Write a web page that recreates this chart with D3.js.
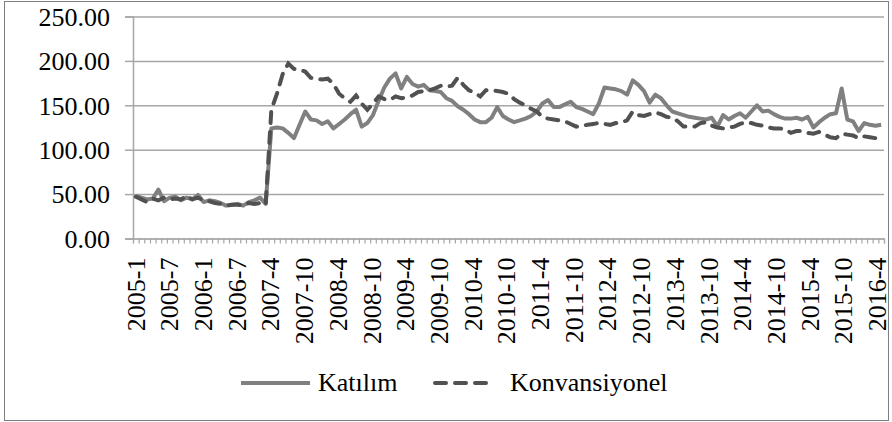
<!DOCTYPE html>
<html>
<head>
<meta charset="utf-8">
<script src="https://cdn.jsdelivr.net/npm/d3@7/dist/d3.min.js"></script>
<style>
  body { margin: 0; background: #fff; }
</style>
</head>
<body>
<div id="chart"></div>
<script>
// months 2005-1 .. 2016-4 (2007-1..3 absent in the source)
const categories = [
  "2005-1","2005-2","2005-3","2005-4","2005-5","2005-6","2005-7","2005-8","2005-9","2005-10","2005-11","2005-12",
  "2006-1","2006-2","2006-3","2006-4","2006-5","2006-6","2006-7","2006-8","2006-9","2006-10","2006-11","2006-12",
  "2007-4","2007-5","2007-6","2007-7","2007-8","2007-9","2007-10","2007-11","2007-12",
  "2008-1","2008-2","2008-3","2008-4","2008-5","2008-6","2008-7","2008-8","2008-9","2008-10","2008-11","2008-12",
  "2009-1","2009-2","2009-3","2009-4","2009-5","2009-6","2009-7","2009-8","2009-9","2009-10","2009-11","2009-12",
  "2010-1","2010-2","2010-3","2010-4","2010-5","2010-6","2010-7","2010-8","2010-9","2010-10","2010-11","2010-12",
  "2011-1","2011-2","2011-3","2011-4","2011-5","2011-6","2011-7","2011-8","2011-9","2011-10","2011-11","2011-12",
  "2012-1","2012-2","2012-3","2012-4","2012-5","2012-6","2012-7","2012-8","2012-9","2012-10","2012-11","2012-12",
  "2013-1","2013-2","2013-3","2013-4","2013-5","2013-6","2013-7","2013-8","2013-9","2013-10","2013-11","2013-12",
  "2014-1","2014-2","2014-3","2014-4","2014-5","2014-6","2014-7","2014-8","2014-9","2014-10","2014-11","2014-12",
  "2015-1","2015-2","2015-3","2015-4","2015-5","2015-6","2015-7","2015-8","2015-9","2015-10","2015-11","2015-12",
  "2016-1","2016-2","2016-3","2016-4"
];

const katilim = [
  48,46,44,45,55,42,46,47,43,46,44,49,41,43,42,40,37,38,39,37,41,43,46,39,
  124,125,124,119,113,128,143,134,133,129,132,124,129,134,140,145,126,130,139,155,
  170,180,186,169,182,174,171,173,167,166,
  165,158,155,149,145,140,134,131,131,136,148,138,134,131,133,135,138,143,152,156,
  148,148,151,154,148,146,143,140,152,170,169,168,166,162,178,173,166,153,162,158,
  150,143,141,139,137,136,135,134,136,126,139,134,138,
  141,136,143,150,143,144,140,137,135,135,136,134,137,125,131,136,140,141,169,134,
  132,121,130,128,127,128
];

const konvansiyonel = [
  47,44,41,45,43,46,44,45,44,48,44,46,43,42,40,39,37,38,38,37,40,39,40,38,
  145,163,185,197,191,190,188,181,180,179,180,174,163,158,154,161,152,145,152,160,
  157,156,160,158,159,161,165,166,167,169,
  172,171,172,181,173,167,164,160,167,167,166,165,163,157,153,150,146,143,137,135,
  134,133,132,129,126,127,
  128,129,130,129,128,130,131,133,143,139,138,140,142,140,137,136,132,126,126,126,
  130,131,127,125,124,125,126,
  129,131,130,128,127,125,124,124,123,119,121,121,119,118,120,117,114,113,118,117,
  116,113,115,114,113,111
];

const yTicks = [0, 50, 100, 150, 200, 250];
const labelStep = 6;

const W = 892, H = 422;
const plotLeft = 133, plotRight = 884, plotTop = 16.5, plotBottom = 238.5;
const gridColor = "#a6a6a6";
const serif = "'Liberation Serif', 'Times New Roman', 'DejaVu Serif', serif";

const svg = d3.select("#chart").append("svg")
    .attr("width", W)
    .attr("height", H);

// chart border
svg.append("rect")
    .attr("x", 4.5).attr("y", 1.5)
    .attr("width", 884).attr("height", 419)
    .attr("fill", "#fff")
    .attr("stroke", "#7f7f7f");

const x = d3.scaleBand()
    .domain(categories)
    .range([plotLeft, plotRight]);

// labels sit a touch tighter than the categories in the original
const xLabel = d3.scaleBand()
    .domain(categories)
    .range([plotLeft, plotRight - 4]);

const y = d3.scaleLinear()
    .domain([0, 250])
    .range([plotBottom, plotTop]);

// gridlines
svg.append("g")
    .attr("transform", `translate(${plotLeft},0)`)
    .call(d3.axisLeft(y).tickValues(yTicks).tickSize(-(plotRight - plotLeft)).tickFormat(""))
    .call(g => g.select(".domain").remove())
    .selectAll("line")
    .attr("stroke", gridColor)
    .attr("stroke-width", 1.5);

// y axis
const yAxis = svg.append("g")
    .attr("transform", `translate(${plotLeft},0)`)
    .call(d3.axisLeft(y).tickValues(yTicks).tickSize(8).tickPadding(15).tickFormat(d3.format(".2f")));
yAxis.attr("font-family", null).attr("font-size", null);
yAxis.selectAll("path, line").attr("stroke", gridColor).attr("stroke-width", 1.5);
yAxis.selectAll("text")
    .style("font-family", serif)
    .style("font-size", "26px")
    .attr("fill", "#000")
    .attr("dy", "0.34em");

// x axis: a tick at every category boundary
const xb = d3.scaleLinear()
    .domain([0, categories.length])
    .range([plotLeft, plotRight]);
const xTicks = svg.append("g")
    .attr("transform", `translate(0,${plotBottom})`)
    .call(d3.axisBottom(xb).tickValues(d3.range(categories.length + 1)).tickSize(5).tickFormat(""));
xTicks.selectAll("path, line").attr("stroke", gridColor).attr("stroke-width", 1.2);

// x labels every 6th category, rotated
const xAxis = svg.append("g")
    .attr("transform", `translate(0,${plotBottom})`)
    .call(d3.axisBottom(xLabel)
        .tickValues(categories.filter((d, i) => i % labelStep === 0))
        .tickSize(0));
xAxis.attr("font-family", null).attr("font-size", null);
xAxis.select(".domain").remove();
xAxis.selectAll("text")
    .style("font-family", serif)
    .style("font-size", "26px")
    .attr("fill", "#000")
    .attr("text-anchor", "end")
    .attr("transform", "rotate(-90)")
    .attr("x", -19)
    .attr("y", 0)
    .attr("dy", "0.34em");

// lines
const line = d3.line()
    .x((d, i) => x(categories[i]) + x.bandwidth() / 2)
    .y(d => y(d));

svg.append("path")
    .datum(katilim)
    .attr("d", line)
    .attr("fill", "none")
    .attr("stroke", "#808080")
    .attr("stroke-width", 4)
    .attr("stroke-linejoin", "round");

svg.append("path")
    .datum(konvansiyonel)
    .attr("d", line)
    .attr("fill", "none")
    .attr("stroke", "#515151")
    .attr("stroke-width", 4)
    .attr("stroke-linecap", "round")
    .attr("stroke-dasharray", "11,9");

// legend
const legend = svg.append("g");
legend.append("line")
    .attr("x1", 241).attr("x2", 310).attr("y1", 383).attr("y2", 383)
    .attr("stroke", "#808080").attr("stroke-width", 4);
legend.append("text")
    .attr("x", 318).attr("y", 391)
    .style("font-family", serif)
    .style("font-size", "26px")
    .text("Katılım");
legend.append("line")
    .attr("x1", 435).attr("x2", 494).attr("y1", 383).attr("y2", 383)
    .attr("stroke", "#515151").attr("stroke-width", 4)
    .attr("stroke-linecap", "round").attr("stroke-dasharray", "11,9");
legend.append("text")
    .attr("x", 510).attr("y", 391)
    .style("font-family", serif)
    .style("font-size", "26px")
    .text("Konvansiyonel");
</script>
</body>
</html>
